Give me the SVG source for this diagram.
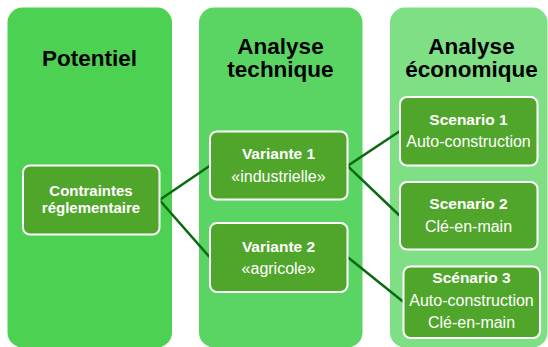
<svg xmlns="http://www.w3.org/2000/svg" width="548" height="347" viewBox="0 0 548 347">
  <style>
    .col { stroke: none; }
    .box { fill: #50a62a; stroke: #ffffff; stroke-width: 2; }
    .head { font-family: "Liberation Sans", Arial, sans-serif; font-weight: bold; font-size: 22.5px; fill: #000000; text-anchor: middle; }
    .t1 { font-family: "Liberation Sans", Arial, sans-serif; font-weight: bold; font-size: 15.5px; fill: #ffffff; text-anchor: middle; }
    .t2 { font-family: "Liberation Sans", Arial, sans-serif; font-size: 16px; fill: #ffffff; text-anchor: middle; }
    .link { fill: none; stroke: #0a6a10; stroke-width: 2.5; }
  </style>
  <rect width="548" height="347" fill="#ffffff"/>

  <!-- column backgrounds -->
  <g id="col-potentiel">
    <rect class="col" x="7.5" y="7.5" width="164.5" height="340" rx="15" fill="#4dd152"/>
    <text class="head" x="89.5" y="66">Potentiel</text>
  </g>
  <g id="col-technique">
    <rect class="col" x="199" y="7.5" width="163.5" height="340" rx="15" fill="#5ad563"/>
    <text class="head" x="280.5" y="53.5">Analyse</text>
    <text class="head" x="280.5" y="76.5">technique</text>
  </g>
  <g id="col-economique">
    <rect class="col" x="390" y="7.5" width="157.5" height="340" rx="15" fill="#7edf84"/>
    <text class="head" x="471.5" y="53.5">Analyse</text>
    <text class="head" x="471.5" y="77">économique</text>
  </g>

  <!-- connectors -->
  <g id="connectors">
    <polyline class="link" points="209.5,166 159.5,200 209.5,257"/>
    <polyline class="link" points="400,131 347.5,166 400,216"/>
    <line class="link" x1="347.5" y1="257" x2="403.5" y2="302"/>
  </g>

  <g id="contraintes">
    <rect class="box" x="23" y="165.5" width="136.5" height="69" rx="7"/>
    <text class="t1" x="91" y="196" style="font-size:15px">Contraintes</text>
    <text class="t1" x="91" y="212.8" style="font-size:15px">réglementaire</text>
  </g>

  <g id="variante1">
    <rect class="box" x="210" y="131.5" width="137.5" height="68" rx="7"/>
    <text class="t1" x="278.5" y="159">Variante 1</text>
    <text class="t2" x="278.5" y="181.5">«industrielle»</text>
  </g>
  <g id="variante2">
    <rect class="box" x="210" y="223" width="137.5" height="69" rx="7"/>
    <text class="t1" x="278.5" y="251.5">Variante 2</text>
    <text class="t2" x="278.5" y="274">«agricole»</text>
  </g>

  <g id="scenario1">
    <rect class="box" x="400" y="97" width="137.5" height="68.5" rx="7"/>
    <text class="t1" x="468.5" y="124.5">Scenario 1</text>
    <text class="t2" x="468.5" y="147">Auto-construction</text>
  </g>
  <g id="scenario2">
    <rect class="box" x="400" y="182" width="137.5" height="67.5" rx="7"/>
    <text class="t1" x="468.5" y="208.5">Scenario 2</text>
    <text class="t2" x="468.5" y="231.5">Clé-en-main</text>
  </g>
  <g id="scenario3">
    <rect class="box" x="403.5" y="266.5" width="136.5" height="71.5" rx="7"/>
    <text class="t1" x="471.5" y="282.5">Scénario 3</text>
    <text class="t2" x="471.5" y="305.5">Auto-construction</text>
    <text class="t2" x="471.5" y="328">Clé-en-main</text>
  </g>
</svg>
